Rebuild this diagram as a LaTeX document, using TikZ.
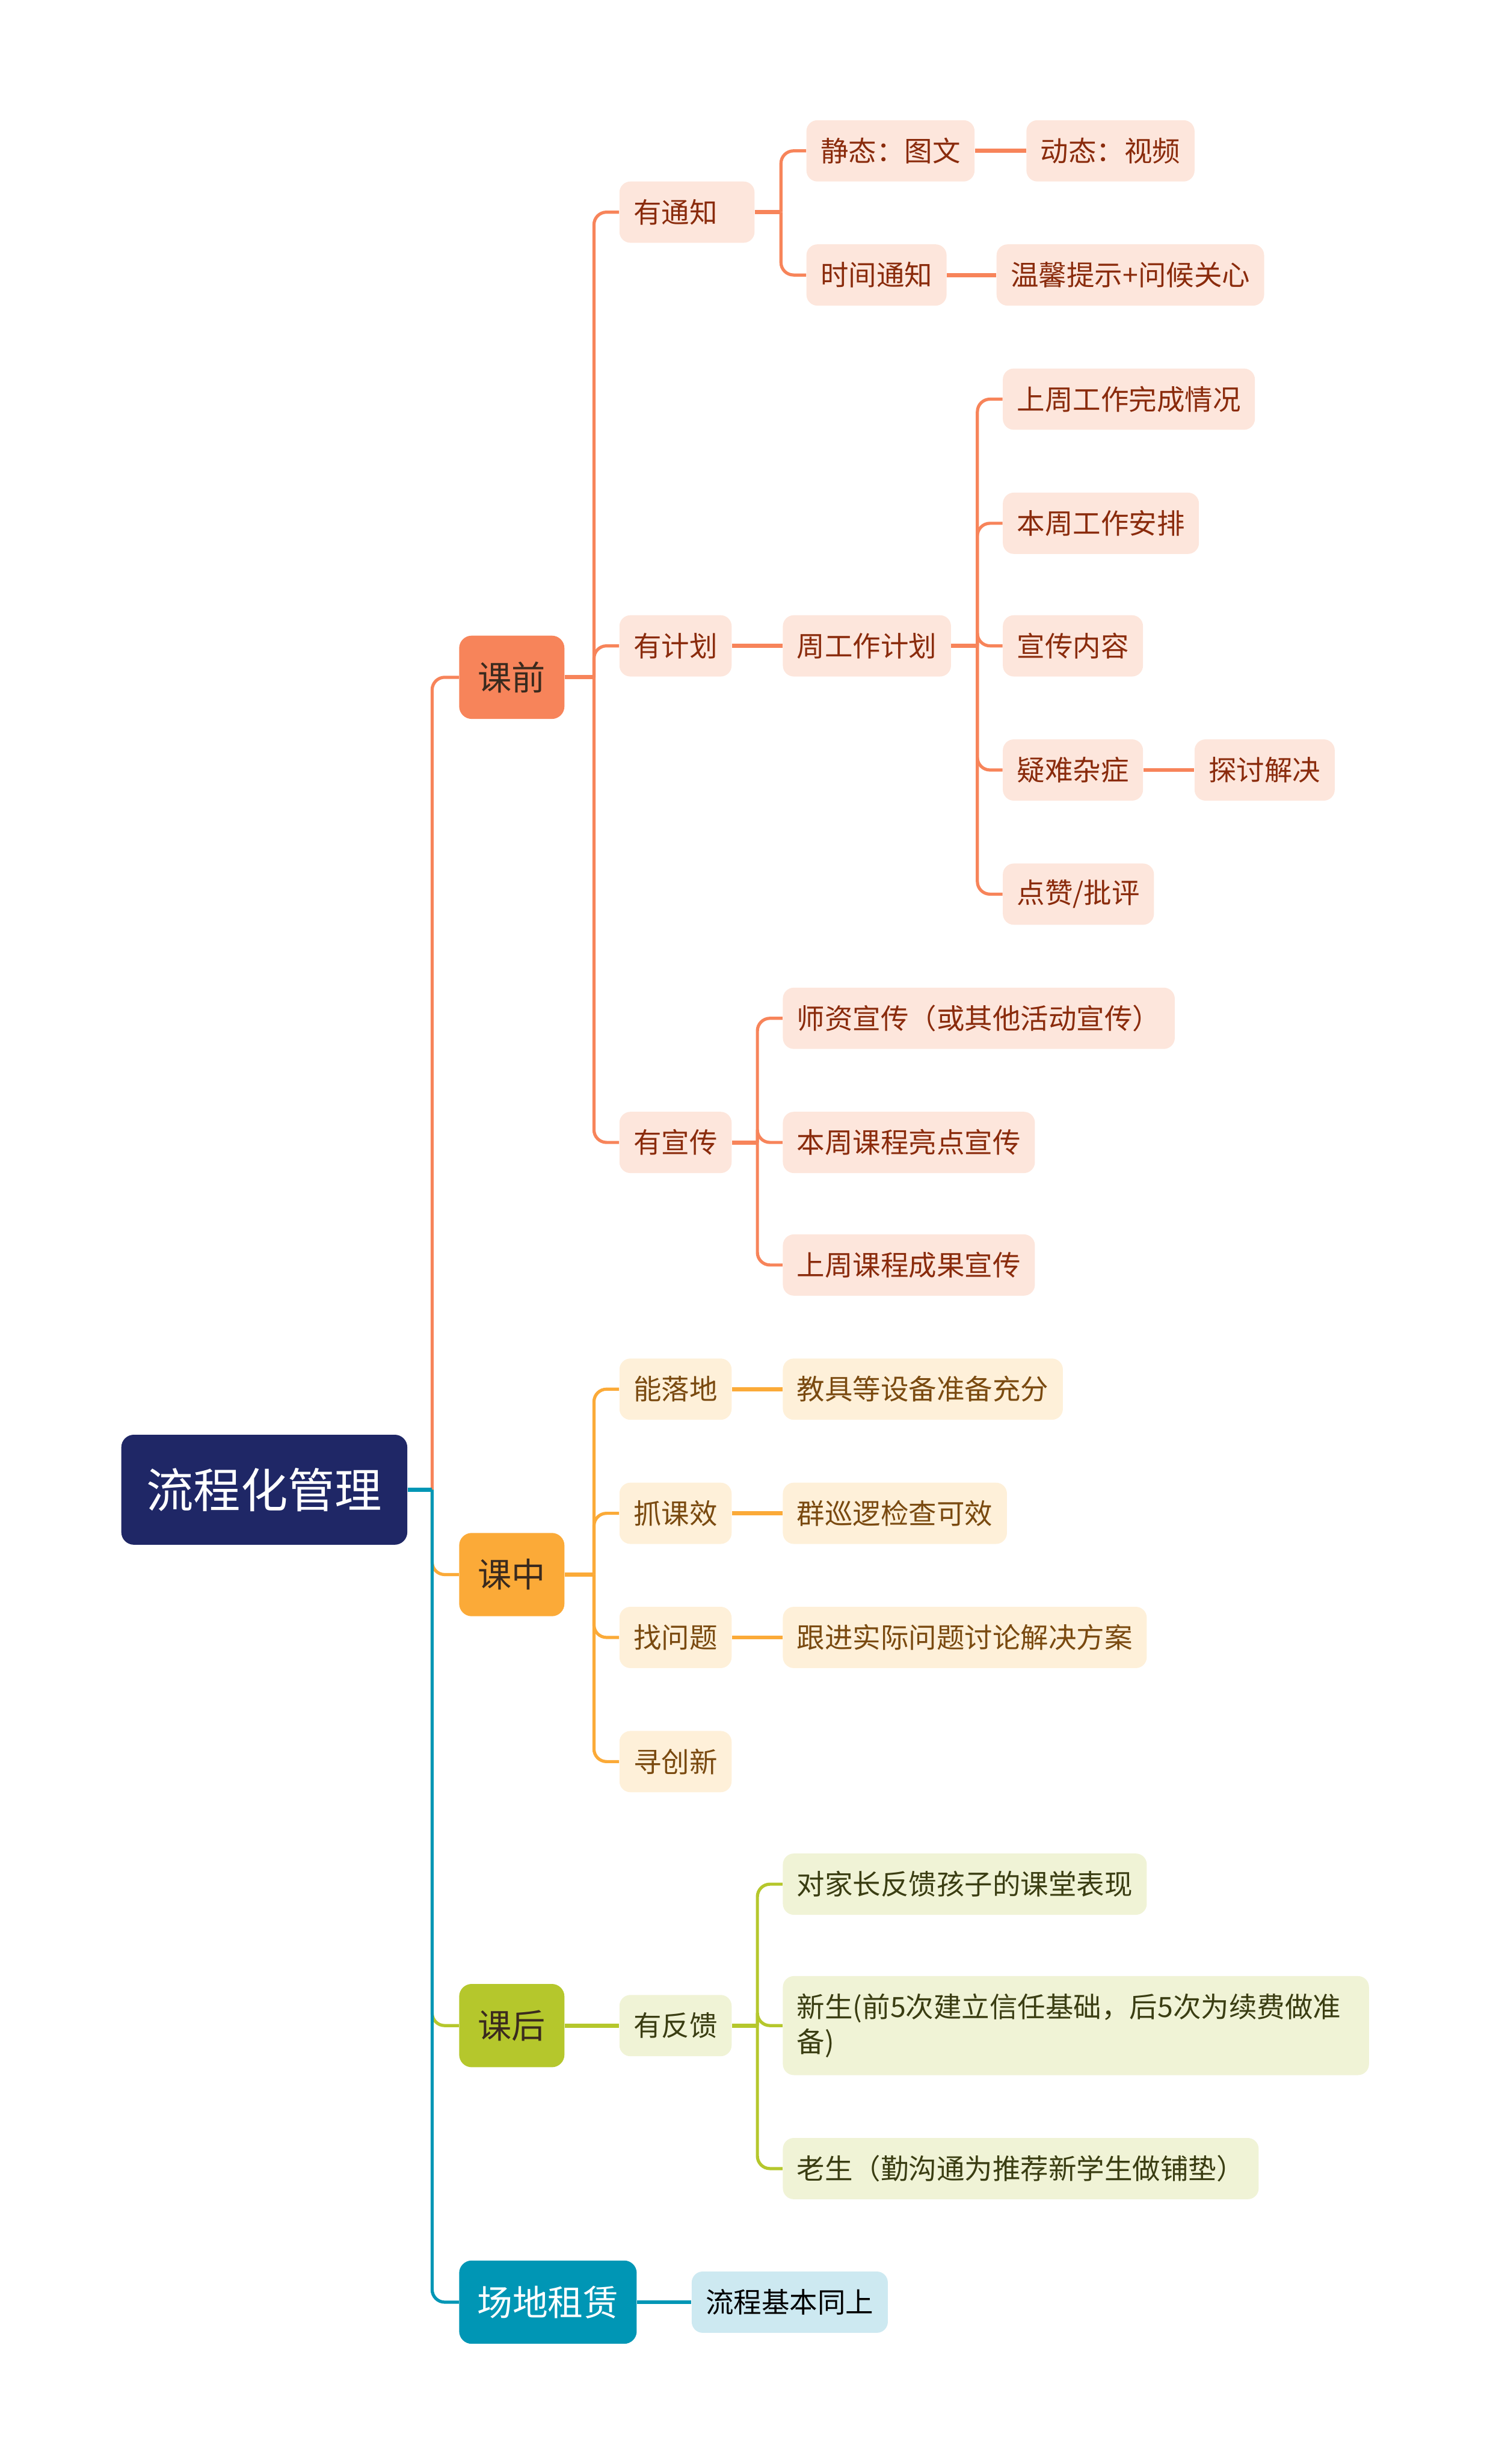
\documentclass[tikz,border=0pt]{standalone}
\usepackage{fontspec}
\setmainfont{Noto Sans CJK SC}
\usetikzlibrary{positioning,calc}
\definecolor{navy}{HTML}{1F2766}
\definecolor{coral}{HTML}{F7845A}
\definecolor{amber}{HTML}{FBAA38}
\definecolor{lime}{HTML}{B5C72C}
\definecolor{teal}{HTML}{0096B5}
\definecolor{prefill}{HTML}{FDE6DC}
\definecolor{pretext}{HTML}{8A2B0C}
\definecolor{midfill}{HTML}{FEF0D9}
\definecolor{midtext}{HTML}{7A4A10}
\definecolor{postfill}{HTML}{F0F3D6}
\definecolor{posttext}{HTML}{3A3D12}
\definecolor{rentfill}{HTML}{CDE9F1}
\definecolor{topictext}{HTML}{3A2A1E}

\begin{document}
\begin{tikzpicture}[
  x=1pt, y=-1pt,
  root/.style={fill=navy, text=white, rounded corners=8pt, anchor=west, minimum height=70pt, inner xsep=16pt, font=\fontsize{30}{34}\selectfont},
  topic/.style={rounded corners=8pt, anchor=west, text=topictext, minimum height=53pt, inner xsep=12pt, font=\fontsize{21.5}{25}\selectfont},
  sub/.style={rounded corners=7pt, anchor=west, minimum height=39pt, inner xsep=9pt, font=\fontsize{17.8}{22}\selectfont},
  pre/.style={sub, fill=prefill, text=pretext},
  mid/.style={sub, fill=midfill, text=midtext},
  post/.style={sub, fill=postfill, text=posttext},
  rent/.style={sub, fill=rentfill, text=black},
  stub/.style={line width=2.6pt},
  branch/.style={line width=2pt, rounded corners=8pt},
]
\useasboundingbox (0,0) rectangle (948,1568);
% root and main topics
\node[root] (root) at (77,948) {流程化管理};
\node[topic, fill=coral] (kq) at (292,431) {课前};
\node[topic, fill=amber] (kz) at (292,1002) {课中};
\node[topic, fill=lime] (kh) at (292,1289) {课后};
\node[topic, fill=teal, text=white, font=\fontsize{22.5}{26}\selectfont, inner xsep=11.5pt] (cd) at (292,1465) {场地租赁};
\coordinate (rootj) at (275,948);
\draw[branch, coral] (rootj) |- (kq.west);
\draw[branch, amber] (rootj) |- (kz.west);
\draw[branch, lime] (rootj) |- (kh.west);
\draw[branch, teal] (rootj) |- (cd.west);
\draw[stub, teal] (root.east) -- (rootj);

% before class
\node[pre, text width=68pt, align=left] (ytz) at (394,135) {有通知};
\node[pre] (yjh) at (394,411) {有计划};
\node[pre] (yxc) at (394,727) {有宣传};
\coordinate (kqj) at (378,431);
\draw[stub, coral] (kq.east) -- (kqj);
\foreach \n in {ytz,yjh,yxc} \draw[branch, coral] (kqj) |- (\n.west);

\node[pre] (jt) at (513,96) {静态：图文};
\node[pre] (dt) at (653,96) {动态：视频};
\node[pre] (sj) at (513,175) {时间通知};
\node[pre] (wx) at (634,175) {温馨提示+问候关心};
\coordinate (ytzj) at (497,135);
\draw[stub, coral] (ytz.east) -- (ytzj);
\foreach \n in {jt,sj} \draw[branch, coral] (ytzj) |- (\n.west);
\draw[stub, coral] (jt) -- (dt);
\draw[stub, coral] (sj) -- (wx);

\node[pre] (zgj) at (498,411) {周工作计划};
\draw[stub, coral] (yjh) -- (zgj);
\node[pre] (szw) at (638,254) {上周工作完成情况};
\node[pre] (bzap) at (638,333) {本周工作安排};
\node[pre] (xcnr) at (638,411) {宣传内容};
\node[pre] (yn) at (638,490) {疑难杂症};
\node[pre] (tt) at (760,490) {探讨解决};
\node[pre] (dz) at (638,569) {点赞/批评};
\coordinate (zgjj) at (622,411);
\draw[stub, coral] (zgj.east) -- (zgjj);
\foreach \n in {szw,bzap,xcnr,yn,dz} \draw[branch, coral] (zgjj) |- (\n.west);
\draw[stub, coral] (yn) -- (tt);

\node[pre] (szxc) at (498,648) {师资宣传（或其他活动宣传）};
\node[pre] (bzld) at (498,727) {本周课程亮点宣传};
\node[pre] (szcg) at (498,805) {上周课程成果宣传};
\coordinate (yxcj) at (482,727);
\draw[stub, coral] (yxc.east) -- (yxcj);
\foreach \n in {szxc,bzld,szcg} \draw[branch, coral] (yxcj) |- (\n.west);

% in class
\node[mid] (nld) at (394,884) {能落地};
\node[mid] (zkx) at (394,963) {抓课效};
\node[mid] (zwt) at (394,1042) {找问题};
\node[mid] (ycx) at (394,1121) {寻创新};
\coordinate (kzj) at (378,1002);
\draw[stub, amber] (kz.east) -- (kzj);
\foreach \n in {nld,zkx,zwt,ycx} \draw[branch, amber] (kzj) |- (\n.west);
\node[mid] (jj) at (498,884) {教具等设备准备充分};
\node[mid] (qx) at (498,963) {群巡逻检查可效};
\node[mid] (gj) at (498,1042) {跟进实际问题讨论解决方案};
\draw[stub, amber] (nld) -- (jj);
\draw[stub, amber] (zkx) -- (qx);
\draw[stub, amber] (zwt) -- (gj);

% after class
\node[post] (yfk) at (394,1289) {有反馈};
\draw[stub, lime] (kh) -- (yfk);
\node[post] (dj) at (498,1199) {对家长反馈孩子的课堂表现};
\node[post, text width=355pt, align=left, minimum height=63pt] (xs) at (498,1289) {新生(前5次建立信任基础，后5次为续费做准\\备)};
\node[post] (ls) at (498,1380) {老生（勤沟通为推荐新学生做铺垫）};
\coordinate (yfkj) at (482,1289);
\draw[stub, lime] (yfk.east) -- (yfkj);
\foreach \n in {dj,xs,ls} \draw[branch, lime] (yfkj) |- (\n.west);

% venue rental
\node[rent] (lc) at (440,1465) {流程基本同上};
\draw[stub, teal] (cd) -- (lc);
\end{tikzpicture}
\end{document}
